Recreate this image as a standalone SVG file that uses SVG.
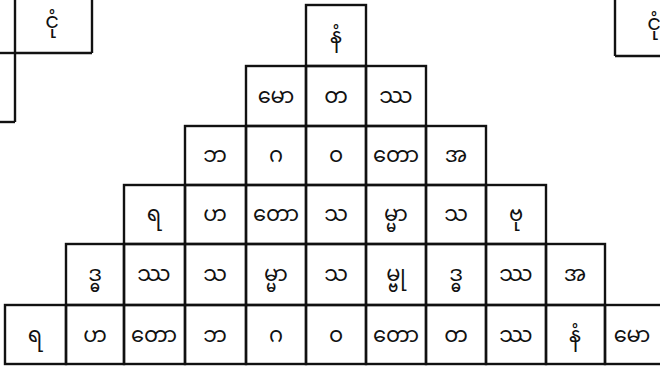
<svg xmlns="http://www.w3.org/2000/svg" width="660" height="370" viewBox="0 0 660 370">
<style>
rect.c{fill:none;stroke:#111;stroke-width:2.4}
line.l{stroke:#111;stroke-width:2.4}
text{font-family:"Noto Sans Myanmar","Padauk","Myanmar Text","Noto Sans",sans-serif;font-size:21px;fill:#111;text-anchor:middle}
</style>
<rect x="0" y="0" width="660" height="370" fill="#fff"/>
<g id="corner-left">
<line class="l" x1="15" y1="0" x2="15" y2="122"/>
<line class="l" x1="15" y1="53" x2="92" y2="53"/>
<line class="l" x1="92" y1="0" x2="92" y2="53"/>
<line class="l" x1="0" y1="53" x2="15" y2="53"/>
<line class="l" x1="0" y1="122" x2="15" y2="122"/>
<text x="52" y="28">ငုံ</text>
</g>
<g id="corner-right">
<line class="l" x1="615" y1="0" x2="615" y2="56"/>
<line class="l" x1="615" y1="56" x2="660" y2="56"/>
<text x="654" y="30">ငုံ</text>
</g>
<g id="r1"><rect class="c" x="306" y="5" width="60" height="61"/><text x="336" y="43">နံ</text></g>
<g id="r2c1"><rect class="c" x="246" y="66" width="60" height="60"/><text x="276" y="103">မော</text></g>
<g id="r2c2"><rect class="c" x="306" y="66" width="60" height="60"/><text x="336" y="103">တ</text></g>
<g id="r2c3"><rect class="c" x="366" y="66" width="60" height="60"/><text x="396" y="103">ဿ</text></g>
<g id="r3c1"><rect class="c" x="185" y="126" width="61" height="59"/><text x="215" y="162">ဘ</text></g>
<g id="r3c2"><rect class="c" x="246" y="126" width="60" height="59"/><text x="276" y="162">ဂ</text></g>
<g id="r3c3"><rect class="c" x="306" y="126" width="60" height="59"/><text x="336" y="162">ဝ</text></g>
<g id="r3c4"><rect class="c" x="366" y="126" width="60" height="59"/><text x="396" y="162">တော</text></g>
<g id="r3c5"><rect class="c" x="426" y="126" width="60" height="59"/><text x="456" y="162">အ</text></g>
<g id="r4c1"><rect class="c" x="124" y="185" width="61" height="59"/><text x="154" y="221">ရ</text></g>
<g id="r4c2"><rect class="c" x="185" y="185" width="61" height="59"/><text x="215" y="221">ဟ</text></g>
<g id="r4c3"><rect class="c" x="246" y="185" width="60" height="59"/><text x="276" y="221">တော</text></g>
<g id="r4c4"><rect class="c" x="306" y="185" width="60" height="59"/><text x="336" y="221">သ</text></g>
<g id="r4c5"><rect class="c" x="366" y="185" width="60" height="59"/><text x="396" y="221">မ္မာ</text></g>
<g id="r4c6"><rect class="c" x="426" y="185" width="60" height="59"/><text x="456" y="221">သ</text></g>
<g id="r4c7"><rect class="c" x="486" y="185" width="60" height="59"/><text x="516" y="221">ဗု</text></g>
<g id="r5c1"><rect class="c" x="66" y="244" width="58" height="61"/><text x="95" y="281">ဒ္ဓ</text></g>
<g id="r5c2"><rect class="c" x="124" y="244" width="61" height="61"/><text x="154" y="281">ဿ</text></g>
<g id="r5c3"><rect class="c" x="185" y="244" width="61" height="61"/><text x="215" y="281">သ</text></g>
<g id="r5c4"><rect class="c" x="246" y="244" width="60" height="61"/><text x="276" y="281">မ္မာ</text></g>
<g id="r5c5"><rect class="c" x="306" y="244" width="60" height="61"/><text x="336" y="281">သ</text></g>
<g id="r5c6"><rect class="c" x="366" y="244" width="60" height="61"/><text x="396" y="281">မ္ဗု</text></g>
<g id="r5c7"><rect class="c" x="426" y="244" width="60" height="61"/><text x="456" y="281">ဒ္ဓ</text></g>
<g id="r5c8"><rect class="c" x="486" y="244" width="60" height="61"/><text x="516" y="281">ဿ</text></g>
<g id="r5c9"><rect class="c" x="546" y="244" width="59" height="61"/><text x="575" y="281">အ</text></g>
<g id="r6c1"><rect class="c" x="5" y="305" width="61" height="59"/><text x="35" y="342">ရ</text></g>
<g id="r6c2"><rect class="c" x="66" y="305" width="58" height="59"/><text x="95" y="342">ဟ</text></g>
<g id="r6c3"><rect class="c" x="124" y="305" width="61" height="59"/><text x="154" y="342">တော</text></g>
<g id="r6c4"><rect class="c" x="185" y="305" width="61" height="59"/><text x="215" y="342">ဘ</text></g>
<g id="r6c5"><rect class="c" x="246" y="305" width="60" height="59"/><text x="276" y="342">ဂ</text></g>
<g id="r6c6"><rect class="c" x="306" y="305" width="60" height="59"/><text x="336" y="342">ဝ</text></g>
<g id="r6c7"><rect class="c" x="366" y="305" width="60" height="59"/><text x="396" y="342">တော</text></g>
<g id="r6c8"><rect class="c" x="426" y="305" width="60" height="59"/><text x="456" y="342">တ</text></g>
<g id="r6c9"><rect class="c" x="486" y="305" width="60" height="59"/><text x="516" y="342">ဿ</text></g>
<g id="r6c10"><rect class="c" x="546" y="305" width="59" height="59"/><text x="575" y="342">နံ</text></g>
<g id="r6c11"><rect class="c" x="605" y="305" width="60" height="59"/><text x="632" y="342">မော</text></g>
<g id="connectors"></g>
</svg>
